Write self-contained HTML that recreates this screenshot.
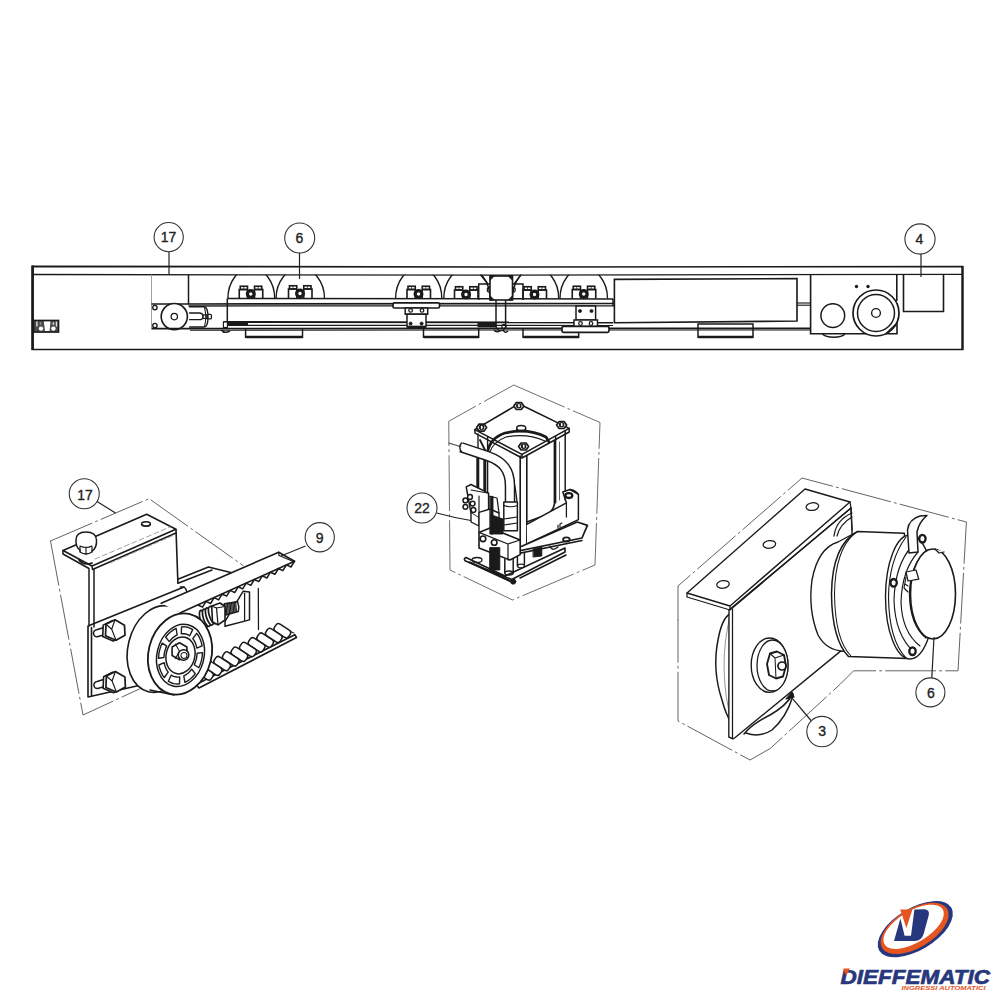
<!DOCTYPE html>
<html><head><meta charset="utf-8">
<style>
html,body{margin:0;padding:0;background:#fff;overflow:hidden;}
svg{display:block;}
text{font-family:"Liberation Sans",sans-serif;}
</style></head>
<body>
<svg width="1000" height="1000" viewBox="0 0 1000 1000">
<rect width="1000" height="1000" fill="#fff"/>
<defs>
  <clipPath id="inner"><rect x="33" y="274.8" width="930" height="80"/></clipPath>
  <g id="bolts">
    <!-- relative to nut center (0,0), plate top at y=+4.5 -->
    <path d="M-11.5 4.5 V-4.5 H-3.2 M3.7 -4.5 H12 V4.5" fill="none"/>
    <rect x="-10.5" y="-7.75" width="7.25" height="3.25" fill="none"/>
    <rect x="3.75" y="-7.75" width="7.25" height="3.25" fill="none"/>
    <line x1="-7" y1="-7.5" x2="-7" y2="-4.8" stroke-width="0.69"/>
    <line x1="7.4" y1="-7.5" x2="7.4" y2="-4.8" stroke-width="0.69"/>
    <line x1="-3.2" y1="-4.5" x2="-3.2" y2="4.5" />
    <line x1="3.7" y1="-4.5" x2="3.7" y2="4.5" />
    <circle cx="0" cy="0" r="3.3" stroke-width="3.33" fill="#fff"/>
  </g>
</defs>
<g id="bar" fill="none" stroke="#1a1a1a" stroke-width="1.49">
  <path d="M32.5 266.3 L500 267 L962.5 266.5 L962.5 349.5 L32.5 349.5 Z" stroke-width="1.67"/>
  <line x1="32.6" y1="265.5" x2="32.6" y2="350" stroke-width="2.64"/>
  <line x1="962.5" y1="266" x2="962.5" y2="350" stroke-width="2.18"/>
  <path d="M33 274.5 L500 275.2 L962 274.3" stroke-width="1.32"/>
  <!-- left small block -->
  <rect x="33.6" y="320.4" width="25" height="11.7" fill="#4a4a4a" stroke-width="1.49"/>
  <path d="M43.8 321.5 H50.5 L49.5 331 H45 Z" fill="#fff" stroke="none"/>
  <circle cx="41" cy="328.6" r="2.2" fill="#fff" stroke="none"/>
  <circle cx="53.4" cy="328.6" r="2.2" fill="#fff" stroke="none"/>
  <rect x="36.2" y="321.5" width="1.4" height="5" fill="#ddd" stroke="none"/>
  <rect x="55.8" y="321.5" width="1.4" height="5" fill="#ddd" stroke="none"/>
  <ellipse cx="40.5" cy="323.5" rx="0.9" ry="1.5" fill="#888" stroke="none"/>
  <ellipse cx="53.4" cy="323.5" rx="0.9" ry="1.5" fill="#ccc" stroke="none"/>
  <line x1="151.5" y1="274.5" x2="151.5" y2="328" stroke-width="0.92" stroke="#999"/>
  <line x1="188.5" y1="274.5" x2="188.5" y2="304" stroke-width="1.49"/>
  <line x1="151.5" y1="304" x2="189" y2="304" stroke-width="1.72"/>
  <circle cx="174.3" cy="316.6" r="13.1" stroke-width="1.61" fill="#fff"/>
  <circle cx="174.3" cy="316.6" r="3.2" stroke-width="1.26"/>
  <circle cx="154.9" cy="307.6" r="2.2" stroke-width="1.38"/>
  <circle cx="154.9" cy="325.6" r="2.2" stroke-width="1.38"/>
  <path d="M189.1 306.7 H204 Q208 307 208 317 Q208 327 204 327 H189.1" stroke-width="1.38"/>
  <path d="M204.5 307.5 Q207 317 204.5 326.5" stroke-width="1.03"/>
  <path d="M189.1 313 H199 Q203 313 203 316.4 Q203 319.7 199 319.7 H189.1" stroke-width="1.26"/>
  <rect x="203" y="314.9" width="4" height="3.6" stroke-width="1.15"/>
  <rect x="207" y="314.3" width="4.4" height="4.6" rx="1" stroke-width="1.26"/>
  <!-- arches (clipped) -->
  <g clip-path="url(#inner)" stroke-width="1.38">
    <path d="M227.9 298.5 A23.4 30.4 0 0 1 274.7 298.5"/>
    <path d="M276.1 298.5 A24.2 30.4 0 0 1 324.5 298.5"/>
    <path d="M395.6 298.5 A23.1 30.4 0 0 1 441.8 298.5"/>
    <path d="M443.8 298.5 A23.1 30.4 0 0 1 490 298.5"/>
    <path d="M512.5 298.5 A23.1 30.4 0 0 1 558.7 298.5"/>
    <path d="M560 298.5 A23.7 30.4 0 0 1 607.5 298.5"/>
  </g>
  <!-- plate and rail -->
  <line x1="227.5" y1="298.5" x2="613" y2="299"/>
  <line x1="188.5" y1="304" x2="614" y2="303.5" stroke-width="1.61"/>
  <line x1="188.5" y1="306" x2="614" y2="305.8" stroke-width="1.26"/>
  <line x1="613" y1="298.8" x2="613" y2="306"/>
  <line x1="227.3" y1="298.5" x2="227.3" y2="322.5"/>
  <!-- bolts -->
  <g stroke-width="1.61">
    <use href="#bolts" x="250.75" y="294"/>
    <use href="#bolts" x="300" y="293.5"/>
    <use href="#bolts" x="418.5" y="294"/>
    <use href="#bolts" x="466" y="294.5"/>
    <use href="#bolts" x="534.5" y="294.5"/>
    <use href="#bolts" x="583.75" y="294"/>
  </g>
</g>

<g id="bar2" fill="none" stroke="#1a1a1a" stroke-width="1.49">
  <!-- belt lines -->
  <line x1="223.5" y1="322" x2="613" y2="322.5" stroke-width="1.84"/>
  <line x1="246" y1="325.3" x2="613" y2="325.5" stroke-width="1.15"/>
  <line x1="151.5" y1="328.6" x2="810" y2="328.3" stroke-width="1.84"/>
  <line x1="190" y1="330.2" x2="810" y2="330" stroke-width="1.03"/>
  <!-- dark belt segments -->
  <rect x="224" y="321.5" width="24" height="4.5" fill="#1a1a1a" stroke="none"/>
  <rect x="477.5" y="322.3" width="19" height="5" fill="#1a1a1a" stroke="none"/>
  <rect x="223.4" y="322" width="4" height="5.5" fill="#fff" stroke-width="1.15"/>
  <path d="M221.5 330 Q224 334 230 331" stroke-width="1.61"/>
  <!-- pads -->
  <path d="M245.6 328.6 V337.3 H302.5 V328.6" stroke-width="1.49"/>
  <line x1="246" y1="337" x2="302.5" y2="337" stroke-width="2.53"/>
  <path d="M423.5 329 V337.3 H478.7 V329" stroke-width="1.49"/>
  <line x1="424" y1="337" x2="478.7" y2="337" stroke-width="2.53"/>
  <path d="M523 329 V337.3 H578.7 V329" stroke-width="1.49"/>
  <line x1="523.5" y1="337" x2="578.7" y2="337" stroke-width="2.53"/>
  <path d="M698 324 V337.3 H753 V324 Z" stroke-width="1.49"/>
  <line x1="698.5" y1="337" x2="753" y2="337" stroke-width="2.53"/>
  <!-- clamp 1 -->
  <rect x="393" y="302.8" width="46.5" height="5.2" rx="1.5" fill="#fff" stroke-width="1.72"/>
  <rect x="405.2" y="308" width="22.5" height="6.2" fill="#fff" stroke-width="1.49"/>
  <circle cx="410.6" cy="310.4" r="1.8" stroke-width="1.26"/>
  <circle cx="422" cy="310.4" r="1.8" stroke-width="1.26"/>
  <rect x="407" y="314.2" width="19" height="12.6" fill="#fff" stroke-width="1.49"/>
  <circle cx="410.6" cy="323.6" r="1.6" fill="#1a1a1a" stroke-width="0.69"/>
  <circle cx="421.6" cy="323.6" r="1.6" fill="#1a1a1a" stroke-width="0.69"/>
  <line x1="407" y1="326.8" x2="426" y2="326.8" stroke-width="2.30"/>
  <!-- central block -->
  <rect x="490" y="276" width="22.5" height="24" fill="#fff" stroke-width="1.61"/>
  <path d="M490 275.5 h4.5 l-4.5 4.5z M512.5 275.5 h-4.5 l4.5 4.5z M490 300 h4 l-4 -4z M512.5 300 h-4 l4 -4z" fill="#1a1a1a" stroke-width="1.03"/>
  <path d="M480.5 274.8 L488 284 M521 274.8 L514 284" stroke-width="1.38"/>
  <path d="M478.7 300 V284 H490 M512.5 284 H523 V300" stroke-width="1.49"/>
  <path d="M490 287 A2.5 2.5 0 0 0 490 292.5 M512.5 287 A2.5 2.5 0 0 1 512.5 292.5" stroke-width="1.15"/>
  <path d="M496 300 V326 M505.6 300 V326" stroke-width="1.49"/>
  <path d="M496 326 A4.8 4.8 0 0 0 505.6 326" stroke-width="1.26"/>
  <circle cx="504" cy="326.5" r="2.2" stroke-width="1.15"/>
  <path d="M494 330 Q496 333 500 331 M503 330 Q505 334 508 331" stroke-width="1.38"/>
  <!-- clamp 2 -->
  <rect x="576" y="306" width="19.6" height="14" fill="#fff" stroke-width="1.49"/>
  <circle cx="580" cy="311" r="1.6" fill="#1a1a1a" stroke-width="0.69"/>
  <circle cx="591.5" cy="311" r="1.6" fill="#1a1a1a" stroke-width="0.69"/>
  <rect x="574" y="320" width="23.5" height="6.5" fill="#fff" stroke-width="1.49"/>
  <circle cx="580.5" cy="323.5" r="1.8" stroke-width="1.26"/>
  <circle cx="591" cy="323.5" r="1.8" stroke-width="1.26"/>
  <rect x="562" y="326.3" width="47" height="6" rx="1.5" fill="#fff" stroke-width="1.72"/>
  <!-- big rectangle -->
  <path d="M614.4 279.4 L797 278.6 L797 321 L614.4 322.8 Z" stroke-width="1.61"/>
  <line x1="797" y1="303" x2="810.6" y2="303" stroke-width="1.15"/>
  <line x1="797" y1="305.2" x2="810.6" y2="305.2" stroke-width="1.15"/>
  <!-- motor housing -->
  <path d="M810.6 274.4 V333.7 H897 V322" stroke-width="1.61"/>
  <circle cx="832.8" cy="315.6" r="11.9" stroke-width="1.49"/>
  <path d="M822.5 334 A12 5 0 0 0 845 334" stroke-width="1.38"/>
  <circle cx="876" cy="313" r="23" stroke-width="1.72" fill="#fff"/>
  <circle cx="876" cy="313" r="18.5" stroke-width="1.49"/>
  <circle cx="876" cy="313" r="4.4" stroke-width="1.38"/>
  <circle cx="856.5" cy="286.5" r="1.7" fill="#1a1a1a" stroke="none"/>
  <circle cx="868" cy="286.5" r="1.7" fill="#1a1a1a" stroke="none"/>
  <path d="M886 333.5 L896 324" stroke-width="1.26"/>
  <!-- box 4 -->
  <line x1="896.8" y1="274.4" x2="896.8" y2="301" stroke-width="1.61"/>
  <path d="M903.5 274.4 V311.5 H943.5 V274.4" stroke-width="1.61"/>
</g>


<g id="left" fill="none" stroke="#1a1a1a" stroke-width="1.61" stroke-linejoin="round" stroke-linecap="round">
<path d="M50.5 541 L149.5 498.5 M151 500 L243 565.5 M50.5 541 L83 715 L147 685.5" stroke="#555" stroke-width="0.92" stroke-dasharray="45 4 2 4"/>
<path d="M63 550.5 L146.7 514.3 L175.9 529.3 L92 566 Z" fill="#fff" stroke-width="1.61"/>
<path d="M63 550.5 L63 554 L89 568.5 L89 626 M92 566 L92.5 569.5 M94 569 L94 627 M92.5 569.5 L176 533" stroke-width="1.49"/>
<path d="M95 559 L170 527 M110 563 L172 536" stroke="#999" stroke-width="0.92" stroke-dasharray="5 3"/>
<ellipse cx="146" cy="524" rx="4.5" ry="2.3" stroke-width="1.38"/>
<path d="M141.8 524.5 Q146 527.8 150.3 524.5" stroke-width="1.38"/>
<path d="M176 529.5 L177.9 583" stroke-width="1.61"/>
<path d="M76 540 Q76 532 86 532 Q96 532 96.5 540 Q97 548 92 551 L92 552 Q86 556 80 552 L80 550 Q75.5 547 76 540 Z" fill="#fff" stroke-width="1.49"/>
<path d="M80 546 L80 551 M92 546 L92 551 M86 547 L86 554 M80 546 Q86 549 92 546" stroke-width="1.15"/>
<path d="M79 560 Q84 566 92 563" stroke-width="1.72"/>
<path d="M177.9 579.3 L208.4 567 L231.8 572.8 M177.9 583.2 L212 570" stroke-width="1.49"/>
<path d="M88 626 L184 587 M88 626 L88 697 L150 683 M91.5 627.5 L91.5 695.5" stroke-width="1.61"/>
<path d="M180.4 587 Q184.5 586.5 185.5 588.5 L187.6 593.5" stroke-width="1.49"/>
<path d="M106.2 626.8 L96.7 629.8 A3.3 3.3 0 0 0 97.2 636.8 L106.2 634.3" fill="#fff" stroke-width="1.49"/>
<polygon points="103.2,625.1 112.2,620.6 121.7,626.1 122.2,636.1 113.2,641.1 102.7,636.6" fill="#fff" stroke-width="1.61"/>
<polygon points="106.0,624.3 115.0,619.8 124.5,625.3 125.0,635.3 116.0,640.3 105.5,635.8" fill="#fff" stroke-width="1.72"/>
<path d="M115.0 619.8 L111.7 629.3 L116.0 640.3 M111.7 629.3 L106.0 624.3" stroke-width="1.15"/>
<path d="M106.6 678.5 L97.1 681.5 A3.3 3.3 0 0 0 97.6 688.5 L106.6 686.0" fill="#fff" stroke-width="1.49"/>
<polygon points="103.6,676.8 112.6,672.3 122.1,677.8 122.6,687.8 113.6,692.8 103.1,688.3" fill="#fff" stroke-width="1.61"/>
<polygon points="106.4,676.0 115.4,671.5 124.9,677.0 125.4,687.0 116.4,692.0 105.9,687.5" fill="#fff" stroke-width="1.72"/>
<path d="M115.4 671.5 L112.1 681.0 L116.4 692.0 M112.1 681.0 L106.4 676.0" stroke-width="1.15"/>
<path d="M196 684.5 L294.8 634.7 L296.5 637.5 L199 688 Z" fill="#fff" stroke-width="1.61"/>
<path d="M199 681 L203.3 675.0 L207.6 676.6 L211.9 670.6 L216.2 672.2 L220.6 666.3 L224.9 667.9 L229.2 661.9 L233.5 663.5 L237.8 657.5 L242.1 659.1 L246.5 653.2 L250.8 654.8 L255.1 648.8 L259.4 650.4 L263.8 644.5 L268.1 646.1 L272.4 640.1 L276.7 641.7 L281.0 635.7 L285.3 637.3 L289.7 631.4 L294.0 633.0" stroke-width="1.15" stroke="#333"/>
<rect x="274.0" y="626.5" width="17" height="8.5" rx="3" transform="rotate(33 282.5 630.5)" fill="#fff" stroke-width="1.49"/>
<rect x="265.4" y="631.2" width="17" height="8.5" rx="3" transform="rotate(33 273.9 635.2)" fill="#fff" stroke-width="1.49"/>
<rect x="256.8" y="635.9" width="17" height="8.5" rx="3" transform="rotate(33 265.3 639.9)" fill="#fff" stroke-width="1.49"/>
<rect x="248.2" y="640.6" width="17" height="8.5" rx="3" transform="rotate(33 256.7 644.6)" fill="#fff" stroke-width="1.49"/>
<rect x="239.6" y="645.3" width="17" height="8.5" rx="3" transform="rotate(33 248.1 649.3)" fill="#fff" stroke-width="1.49"/>
<rect x="231.0" y="650.0" width="17" height="8.5" rx="3" transform="rotate(33 239.5 654.0)" fill="#fff" stroke-width="1.49"/>
<rect x="222.4" y="654.7" width="17" height="8.5" rx="3" transform="rotate(33 230.9 658.7)" fill="#fff" stroke-width="1.49"/>
<rect x="213.8" y="659.4" width="17" height="8.5" rx="3" transform="rotate(33 222.3 663.4)" fill="#fff" stroke-width="1.49"/>
<rect x="205.2" y="664.1" width="17" height="8.5" rx="3" transform="rotate(33 213.7 668.1)" fill="#fff" stroke-width="1.49"/>
<rect x="196.6" y="668.8" width="17" height="8.5" rx="3" transform="rotate(33 205.1 672.8)" fill="#fff" stroke-width="1.49"/>
<line x1="258.3" y1="588.5" x2="258.5" y2="629.5" stroke-width="1.26"/>
<path d="M225 621.3 L243.2 591.2 L249.5 591.9 L249.5 619.9 L225 626.2 Z" fill="#fff" stroke-width="1.49"/>
<path d="M244.6 593.3 L244.6 620.6" stroke-width="1.26"/>
<path d="M224.3 603.8 L237.6 601.7 Q239.5 606.5 238.3 611.5 L225.7 615 Z" fill="#fff" stroke-width="1.49"/>
<path d="M226.0 603.5 L226.8 614.0 M227.4 603.3 L228.2 613.6 M228.8 603.0 L229.6 613.2 M230.1 602.8 L230.9 612.8 M231.5 602.6 L232.3 612.4 M232.9 602.4 L233.7 611.9 M234.2 602.1 L235.1 611.5 M235.6 601.9 L236.4 611.1 " stroke-width="1.15"/>
<ellipse cx="203.5" cy="619.0" rx="3.2" ry="9" transform="rotate(-18 203.5 619.0)" fill="#fff" stroke-width="1.72"/>
<ellipse cx="206.5" cy="617.7" rx="3.2" ry="9" transform="rotate(-18 206.5 617.7)" fill="#fff" stroke-width="1.72"/>
<ellipse cx="209.5" cy="616.4" rx="3.2" ry="9" transform="rotate(-18 209.5 616.4)" fill="#fff" stroke-width="1.72"/>
<ellipse cx="212.5" cy="615.1" rx="3.2" ry="9" transform="rotate(-18 212.5 615.1)" fill="#fff" stroke-width="1.72"/>
<path d="M211.7 606 L220 603 L225 606.5 L225 620 L218 624.8 L212.5 622 Z" fill="#fff" stroke-width="1.61"/>
<path d="M216.5 608 L225 606.5 M216.5 608 L218 624.8 M211.7 606 L216.5 608" stroke-width="1.26"/>
<ellipse cx="159" cy="649" rx="31" ry="44" transform="rotate(14 159 649)" fill="#fff" stroke-width="1.61"/>
<path d="M150 690 L174 695" stroke-width="1.49"/>
<path d="M180.4 612.8 L161.2 603.2 L278.7 552.2 L294.5 561.2 L180.4 612.8 Z" fill="#fff" stroke="none"/>
<path d="M161.2 603.2 L278.7 552.2 L294.5 561.2 L180.4 612.8" stroke-width="1.61"/>
<path d="M278.7 552.2 L279 555.5 L294.5 562" stroke-width="1.26"/>
<path d="M294.5 561.2 L291.0 567.0 L286.5 564.9 L282.9 570.7 L278.4 568.5 L274.9 574.3 L270.4 572.2 L266.9 578.0 L262.3 575.8 L258.8 581.6 L254.3 579.5 L250.8 585.3 L246.2 583.1 L242.7 588.9 L238.2 586.8 L234.7 592.6 L230.2 590.4 L226.6 596.2 L222.1 594.0 L218.6 599.9 L214.1 597.7 L210.6 603.5 L206.0 601.4 L202.5 607.2 L198.0 605.0" stroke-width="1.49"/>
<ellipse cx="180" cy="654" rx="31.5" ry="41" transform="rotate(14 180 654)" fill="#fff" stroke-width="1.84"/>
<ellipse cx="180.5" cy="655.4" rx="23.5" ry="31.5" transform="rotate(14 180.5 655.4)" stroke-width="1.49"/>
<path d="M195.3 673.6 L193.8 675.5 L192.2 677.3 L190.5 678.8 L188.7 680.2 L186.8 681.4 L184.9 682.4 L183.8 675.8 L185.2 675.1 L186.6 674.2 L188.0 673.2 L189.3 672.0 L190.5 670.6 L191.7 669.2 Z" stroke-width="1.38"/>
<path d="M179.5 683.9 L177.5 684.0 L175.6 683.9 L173.7 683.6 L171.8 683.0 L170.0 682.2 L168.3 681.2 L171.3 675.0 L172.6 675.8 L173.9 676.4 L175.3 676.8 L176.8 677.0 L178.2 677.1 L179.7 677.0 Z" stroke-width="1.38"/>
<path d="M164.3 677.5 L163.0 675.8 L161.9 673.9 L160.9 671.8 L160.1 669.6 L159.4 667.4 L158.9 665.0 L164.2 662.7 L164.6 664.5 L165.1 666.2 L165.7 667.9 L166.4 669.4 L167.3 670.9 L168.2 672.2 Z" stroke-width="1.38"/>
<path d="M158.5 658.2 L158.7 655.6 L159.0 653.0 L159.6 650.4 L160.3 647.9 L161.1 645.5 L162.2 643.1 L166.7 646.1 L165.9 647.9 L165.3 649.8 L164.7 651.7 L164.3 653.6 L164.1 655.6 L163.9 657.5 Z" stroke-width="1.38"/>
<path d="M165.7 637.2 L167.2 635.3 L168.8 633.5 L170.5 632.0 L172.3 630.6 L174.2 629.4 L176.1 628.4 L177.2 635.0 L175.8 635.7 L174.4 636.6 L173.0 637.6 L171.7 638.8 L170.5 640.2 L169.3 641.6 Z" stroke-width="1.38"/>
<path d="M181.5 626.9 L183.5 626.8 L185.4 626.9 L187.3 627.2 L189.2 627.8 L191.0 628.6 L192.7 629.6 L189.7 635.8 L188.4 635.0 L187.1 634.4 L185.7 634.0 L184.2 633.8 L182.8 633.7 L181.3 633.8 Z" stroke-width="1.38"/>
<path d="M196.7 633.3 L198.0 635.0 L199.1 636.9 L200.1 639.0 L200.9 641.2 L201.6 643.4 L202.1 645.8 L196.8 648.1 L196.4 646.3 L195.9 644.6 L195.3 642.9 L194.6 641.4 L193.7 639.9 L192.8 638.6 Z" stroke-width="1.38"/>
<path d="M202.5 652.6 L202.3 655.2 L202.0 657.8 L201.4 660.4 L200.7 662.9 L199.9 665.3 L198.8 667.7 L194.3 664.7 L195.1 662.9 L195.7 661.0 L196.3 659.1 L196.7 657.2 L196.9 655.2 L197.1 653.3 Z" stroke-width="1.38"/>
<ellipse cx="180.5" cy="655.4" rx="14.3" ry="18.7" transform="rotate(14 180.5 655.4)" stroke-width="1.49"/>
<polygon points="186.9,655.5 179.5,659.8 172.1,655.5 172.1,647.0 179.5,642.8 186.9,647.0" fill="#fff" stroke-width="1.61"/>
<path d="M175.3 644 L179.5 651.3 L188 651.3 M179.5 651.3 L175.3 658.6" stroke-width="1.03"/>
<circle cx="183.5" cy="655" r="5.3" fill="#fff" stroke-width="1.61"/>
<circle cx="184" cy="655.5" r="3" stroke-width="1.03"/>
</g>
<g id="mid" fill="none" stroke="#1a1a1a" stroke-width="1.38" stroke-linejoin="round" stroke-linecap="round">
<path d="M513.75 385 L600 422.5 L595 565 L512.5 600 L450 570 L448.75 421.25 Z" stroke="#555" stroke-width="0.86" stroke-dasharray="55 4 2 4"/>
<path d="M448.75 443 L460 446.5" stroke="#444" stroke-width="1.03"/>
<path d="M555.6 433 V502.8 M565.2 430 V500" stroke-width="1.49"/>
<path d="M559.5 442 V500" stroke-width="0.92" stroke="#555"/>
<path d="M487 452 Q488 437 510 433 L554.4 439 V504 Q552 512 545 515 L526.8 522 L517.2 504 Q515 480 510 470 Z" fill="#fff" stroke="none"/>
<path d="M554.4 441.6 V504 Q553 512 546 515 L526.8 522" stroke-width="1.61"/>
<path d="M510 470.4 Q515 480 517.2 504" stroke-width="1.26"/>
<path d="M478 434 V492 M487.6 437 V492" stroke-width="1.38"/>
<path d="M480 440 L486 452" stroke-width="1.84"/>
<path d="M477.8 455 V492 M484.8 457 V490" stroke-width="2.99"/>
<path d="M474.8 429.6 L518.8 403.8 L569.2 428.4 L522 454.4 Z" fill="#fff" stroke-width="1.61"/>
<path d="M474.8 429.6 L475 433.2 L522 458 L569.2 432 L569.2 428.4 M522 454.4 V458" stroke-width="1.49"/>
<ellipse cx="521.2" cy="428" rx="4.5" ry="2.5" fill="#fff" stroke-width="1.26"/>
<path d="M516.7 428 v2 Q521 433 525.7 430 v-2" stroke-width="1.26"/>
<path d="M487.6 452 Q490 438 505 433 Q528 428 546 437 L549 442" stroke-width="2.76"/>
<path d="M490 452 Q493 442 506 437 Q527 433 545 441" stroke-width="1.15"/>
<polygon points="523.8,406.0 521.3,409.5 516.3,409.5 513.8,406.0 516.3,402.5 521.3,402.5" fill="#fff" stroke-width="1.72"/><circle cx="518.8" cy="405.7" r="2.2" stroke-width="1.15"/><path d="M517.6 404.5 v3 M520.3 404.5 v3" stroke-width="1.03"/>
<polygon points="486.6,427.6 484.1,431.1 479.1,431.1 476.6,427.6 479.1,424.1 484.1,424.1" fill="#fff" stroke-width="1.72"/><circle cx="481.6" cy="427.3" r="2.2" stroke-width="1.15"/><path d="M480.4 426.1 v3 M483.1 426.1 v3" stroke-width="1.03"/>
<polygon points="566.6,425.0 564.1,428.5 559.1,428.5 556.6,425.0 559.1,421.5 564.1,421.5" fill="#fff" stroke-width="1.72"/><circle cx="561.6" cy="424.7" r="2.2" stroke-width="1.15"/><path d="M560.4 423.5 v3 M563.1 423.5 v3" stroke-width="1.03"/>
<polygon points="528.6,446.5 526.1,450.0 521.1,450.0 518.6,446.5 521.1,443.0 526.1,443.0" fill="#fff" stroke-width="1.72"/><circle cx="523.6" cy="446.2" r="2.2" stroke-width="1.15"/><path d="M522.4 445.0 v3 M525.1 445.0 v3" stroke-width="1.03"/>
<path d="M520.2 456 V548 M526.8 456 V545" stroke-width="1.61"/>
<path d="M461 447.2 L488 456.2 C503 461.5 510 470 510 486 L510 504" stroke-width="10.58" stroke-linecap="butt"/>
<path d="M461 447.2 L488 456.2 C503 461.5 510 470 510 486 L510 504" stroke-width="7.59" stroke="#fff" stroke-linecap="butt"/>
<path d="M461.5 443 Q458 447 461.5 451.8" stroke-width="1.38"/>
<path d="M503.8 502 H517.4 V530.8 H503.8 Z" fill="#fff" stroke-width="1.49"/>
<path d="M503.8 505.5 Q510.6 508 517.4 505.5 M503.8 519 L517.4 517 M503.8 525 L517.4 523" stroke-width="1.15"/>
<path d="M526.8 524.4 L566.4 502.8 L562.8 492 L570 489.5 L578.4 494.4 L578.4 519.6 L527 544" fill="#fff" stroke-width="1.49"/>
<path d="M566.4 502.8 L566.4 517 M570 489.5 Q575 490 578.4 494.4" stroke-width="1.26"/>
<ellipse cx="568.8" cy="495.6" rx="3.5" ry="2.4" stroke-width="2.30"/>
<path d="M558 528 v-3 M560 527 v-3 l2 -1" stroke-width="1.15"/>
<path d="M466 557.5 L505 576 L565 548 L565 552 L511.8 579.5 L465.5 561 Q463 559 466 557.5 Z" fill="#fff" stroke-width="1.61"/>
<path d="M470 562.5 L510 581" stroke-width="2.30"/>
<path d="M520 578 L566 555" stroke-width="1.61"/>
<path d="M504.8 559 V573 M513.2 557 V573 M517.4 555 V566 M524.4 553 V564" stroke-width="1.49"/>
<ellipse cx="509" cy="573" rx="4.2" ry="2" stroke-width="1.26"/>
<ellipse cx="521" cy="566" rx="3.5" ry="1.8" stroke-width="1.26"/>
<ellipse cx="477" cy="560" rx="5" ry="2.5" stroke-width="1.26"/>
<path d="M550 546 Q552 552 558 547" stroke-width="1.26"/>
<path d="M506.2 553.4 L582 538 L587.4 525.4 L577.2 522 L513.2 550 Z" fill="#fff" stroke-width="1.72"/>
<path d="M513.2 550 L506 551.5 L506.2 556 L582 540.5" stroke-width="1.49"/>
<ellipse cx="566.4" cy="539.4" rx="3.3" ry="2.1" stroke-width="1.84"/>
<circle cx="513.2" cy="581.6" r="2.6" fill="#1a1a1a" stroke-width="0.92"/>
<path d="M466.2 486.8 L471 484.5 L488.6 493.2 L488.6 513.2 L479 518 L471 513.2 Z" fill="#fff" stroke-width="1.49"/>
<path d="M471 490 L488.6 493.2 M479 496 V518" stroke-width="1.15"/>
<circle cx="465.4" cy="500.4" r="2.4" fill="#fff" stroke-width="1.49"/>
<circle cx="465.4" cy="506.8" r="2.4" fill="#fff" stroke-width="1.49"/>
<circle cx="472.6" cy="503.6" r="2.4" fill="#fff" stroke-width="1.49"/>
<circle cx="473.4" cy="510.0" r="2.4" fill="#fff" stroke-width="1.49"/>
<circle cx="470.0" cy="497.0" r="2.4" fill="#fff" stroke-width="1.49"/>
<path d="M471 513 V522 L479 526 L479 518" fill="#fff" stroke-width="1.38"/>
<path d="M479 512.4 L490 509 L499 513 L499 533 L488 537 L479 532.4 Z" fill="#fff" stroke-width="1.38"/>
<path d="M488.6 496 L497 498 L499 513" stroke-width="1.26"/>
<path d="M479 532.4 L490 528 L520.2 540 L520.2 554.6 L510 560 L479 548 Z" fill="#fff" stroke-width="1.61"/>
<path d="M479 532.4 L508 544 L520.2 540 M508 544 V560" stroke-width="1.26"/>
<circle cx="483" cy="538.8" r="2.8" stroke-width="1.61"/><circle cx="494.2" cy="542.5" r="2.8" stroke-width="1.61"/>
<path d="M490.2 496.4 H493 V534 H490.2 Z M491 514.8 L503 519 L503 534 L491 534 Z M490 547.6 H499.8 V570 H490 Z M533.4 549 L541.8 547 L541.8 556 L533.4 557 Z" fill="#1a1a1a" stroke-width="0.92"/>
</g>
<g id="right" fill="none" stroke="#1a1a1a" stroke-width="1.26" stroke-linejoin="round" stroke-linecap="round">
<path d="M678 620 L678 586 L802 478 L966.4 522 L958 670.8 L853.6 670.8 L840 684.4 L770.4 748.4 L750 760 L678 721 L678 620" stroke="#555" stroke-width="0.92" stroke-dasharray="50 4 2 4"/>
<path d="M730 614 Q722 618 718 640 Q712 670 722 700 Q726 715 731 722" stroke-width="1.49"/>
<path d="M730 616 Q724 640 724 668 Q725 700 731 718" stroke-width="0.69" stroke="#666"/>
<path d="M729 610 L851 508 L852 530 L852 646 L840 651.6 L735.2 737.5 L733 738.8 L728.8 737 Z" fill="#fff" stroke-width="1.38"/>
<path d="M732.5 609 V738.5" stroke-width="1.26"/>
<path d="M744 734 Q752 724 770 715 Q786 706 793 694 M746 733 Q760 738 772 730 Q786 718 793 696" stroke-width="1.49"/>
<path d="M786 699 L792 692 L794 697 Z" fill="#1a1a1a" stroke-width="1.15"/>
<ellipse cx="769.6" cy="665.2" rx="18.4" ry="27.2" fill="#fff" stroke-width="1.38"/>
<ellipse cx="772.5" cy="665.5" rx="15.5" ry="25.5" fill="#fff" stroke-width="1.26"/>
<path d="M770 653.5 L777 651.5 L784 655 L786 666 L783 676.5 L776 678.5 L769 675 L767 664 Z" fill="#fff" stroke-width="1.84"/>
<path d="M770 653.5 L775 658 L776 678.5 M775 658 L784 655" stroke-width="1.03"/>
<circle cx="782" cy="666" r="4" fill="#fff" stroke-width="1.72"/>
<path d="M687 593 L805 489 L850 502 L730 606 Z" fill="#fff" stroke-width="1.38"/>
<path d="M687 593 L687 597 L730 610 L851 508 L850 502 M730 606 L730 610" stroke-width="1.26"/>
<path d="M851 508 L852 530" stroke-width="1.26"/>
<ellipse cx="723.0" cy="584.4" rx="6.3" ry="3.8" transform="rotate(-8 723.0 584.4)" stroke-width="1.26"/>
<ellipse cx="769.4" cy="544.4" rx="6.3" ry="3.8" transform="rotate(-8 769.4 544.4)" stroke-width="1.26"/>
<ellipse cx="812.4" cy="506.6" rx="6.3" ry="3.8" transform="rotate(-8 812.4 506.6)" stroke-width="1.26"/>
<path d="M834 536 Q836 520 852 513 M837 536 Q840 524 852 517" stroke-width="1.26"/>
<path d="M857.6 531.5 L838 542 Q818 548 812 580 Q808 610 818 635 Q826 650 843.2 651.2 L860 656" fill="#fff" stroke-width="1.38"/>
<path d="M857.6 531.5 L904.4 533.3 L908 658.4 L848.6 656.6 Q832 640 831.5 594 Q832 545 857.6 531.5 Z" fill="#fff" stroke-width="1.49"/>
<path d="M855 533 Q835 550 834.5 594 Q835 640 851 656" stroke-width="1.03"/>
<ellipse cx="910" cy="597" rx="24.5" ry="62" fill="#fff" stroke-width="1.38"/>
<path d="M906 537 Q889 560 888.5 597 Q889 640 906 658" stroke-width="1.15"/>
<path d="M912 546 Q895 565 894 600 Q895 635 914 652" stroke-width="1.15"/>
<path d="M918 552 Q902 570 901 602 Q902 632 920 646" stroke-width="1.15"/>
<path d="M927 550 Q910 565 909.5 594 Q910 625 926 638" stroke-width="1.38"/>
<ellipse cx="933" cy="594" rx="22.5" ry="45" fill="#fff" stroke-width="1.61"/>
<path d="M935 549 L939 553 L944 552" fill="#fff" stroke-width="1.26"/>
<ellipse cx="893.6" cy="582.8" rx="3.2" ry="3.8" fill="#fff" stroke-width="2.30"/>
<ellipse cx="912.5" cy="651.2" rx="3.2" ry="3.8" fill="#fff" stroke-width="2.30"/>
<ellipse cx="922.4" cy="538.7" rx="3.2" ry="3.8" fill="#fff" stroke-width="2.30"/>
<path d="M906 572 L916 570 L918.8 579.2 L908 581 Z" fill="#fff" stroke-width="1.26"/>
<path d="M906 577 L904 588 L908 592 M905 584 l3 2" stroke-width="1.15"/>
<path d="M909 553 L907.5 530 Q909 519 920 516 L927 515.5 Q919 522 917 532 L918 552 Z" fill="#fff" stroke-width="1.49"/>
</g>
<g id="labels" fill="#fff" stroke="#333" stroke-width="1.1">
  <circle cx="168.7" cy="237.1" r="14.6"/>
  <circle cx="299.7" cy="238" r="15"/>
  <circle cx="920" cy="239" r="15.1"/>
  <circle cx="84.25" cy="493.75" r="15"/>
  <circle cx="319.75" cy="537.25" r="14.6"/>
  <circle cx="422" cy="508" r="15"/>
  <circle cx="930.4" cy="692.4" r="14.5"/>
  <circle cx="822" cy="731.6" r="15.2"/>
</g>
<g fill="none" stroke="#222" stroke-width="1.2">
  <line x1="169" y1="252" x2="169" y2="275"/>
  <line x1="299.5" y1="253" x2="299.5" y2="279"/>
  <line x1="921" y1="254" x2="921" y2="277"/>
  <line x1="97" y1="501.5" x2="115.5" y2="513"/>
  <line x1="305.5" y1="546" x2="281" y2="556"/>
  <path d="M436.7 513 Q455 518 471 520.5"/>
  <line x1="931.8" y1="677.9" x2="934" y2="637"/>
  <line x1="811" y1="720.5" x2="792.8" y2="698.8"/>
</g>
<g font-size="14" fill="#222" stroke="#222" stroke-width="0.35" text-anchor="middle">
  <text x="168.6" y="242.2">17</text>
  <text x="299.5" y="243">6</text>
  <text x="919.3" y="243.5">4</text>
  <text x="85" y="499.7">17</text>
  <text x="319.6" y="542.5">9</text>
  <text x="422" y="513">22</text>
  <text x="931" y="697.5">6</text>
  <text x="822.1" y="736.4">3</text>
</g>

<g id="logo">
  <ellipse cx="915.3" cy="929.2" rx="42" ry="21" transform="rotate(-31 915.3 929.2)" fill="#27377d"/>
  <ellipse cx="914.6" cy="928.4" rx="38" ry="19.4" transform="rotate(-31 914.6 928.4)" fill="#e6541f"/>
  <ellipse cx="913.6" cy="926.8" rx="34" ry="15.8" transform="rotate(-31 913.6 926.8)" fill="#fff"/>
  <path d="M900.2 909.5 L912.4 909.5 L906.4 928 Z" fill="#e6541f"/>
  <path d="M914.4 909.5 L924.2 909.3 Q929.8 909.6 928.8 915 L923.8 933.5 Q921.6 940.8 915 941 L894 941 L900.4 918.5 L904.6 935.8 L911 935.8 Z" fill="#27377d"/>
  <text x="840.5" y="984" font-size="21" font-weight="bold" font-style="italic" fill="#27377d" stroke="#27377d" stroke-width="0.7" textLength="149.5" lengthAdjust="spacingAndGlyphs">DIEFFEMATIC</text>
  <path d="M843.2 968.6 L849.8 968.6 L846.2 976 Z" fill="#e6541f"/>
  <text x="901.5" y="990.2" font-size="5.4" font-weight="bold" font-style="italic" fill="#e6541f" textLength="84" lengthAdjust="spacingAndGlyphs">INGRESSI AUTOMATICI</text>
</g>


</svg>
</body></html>
